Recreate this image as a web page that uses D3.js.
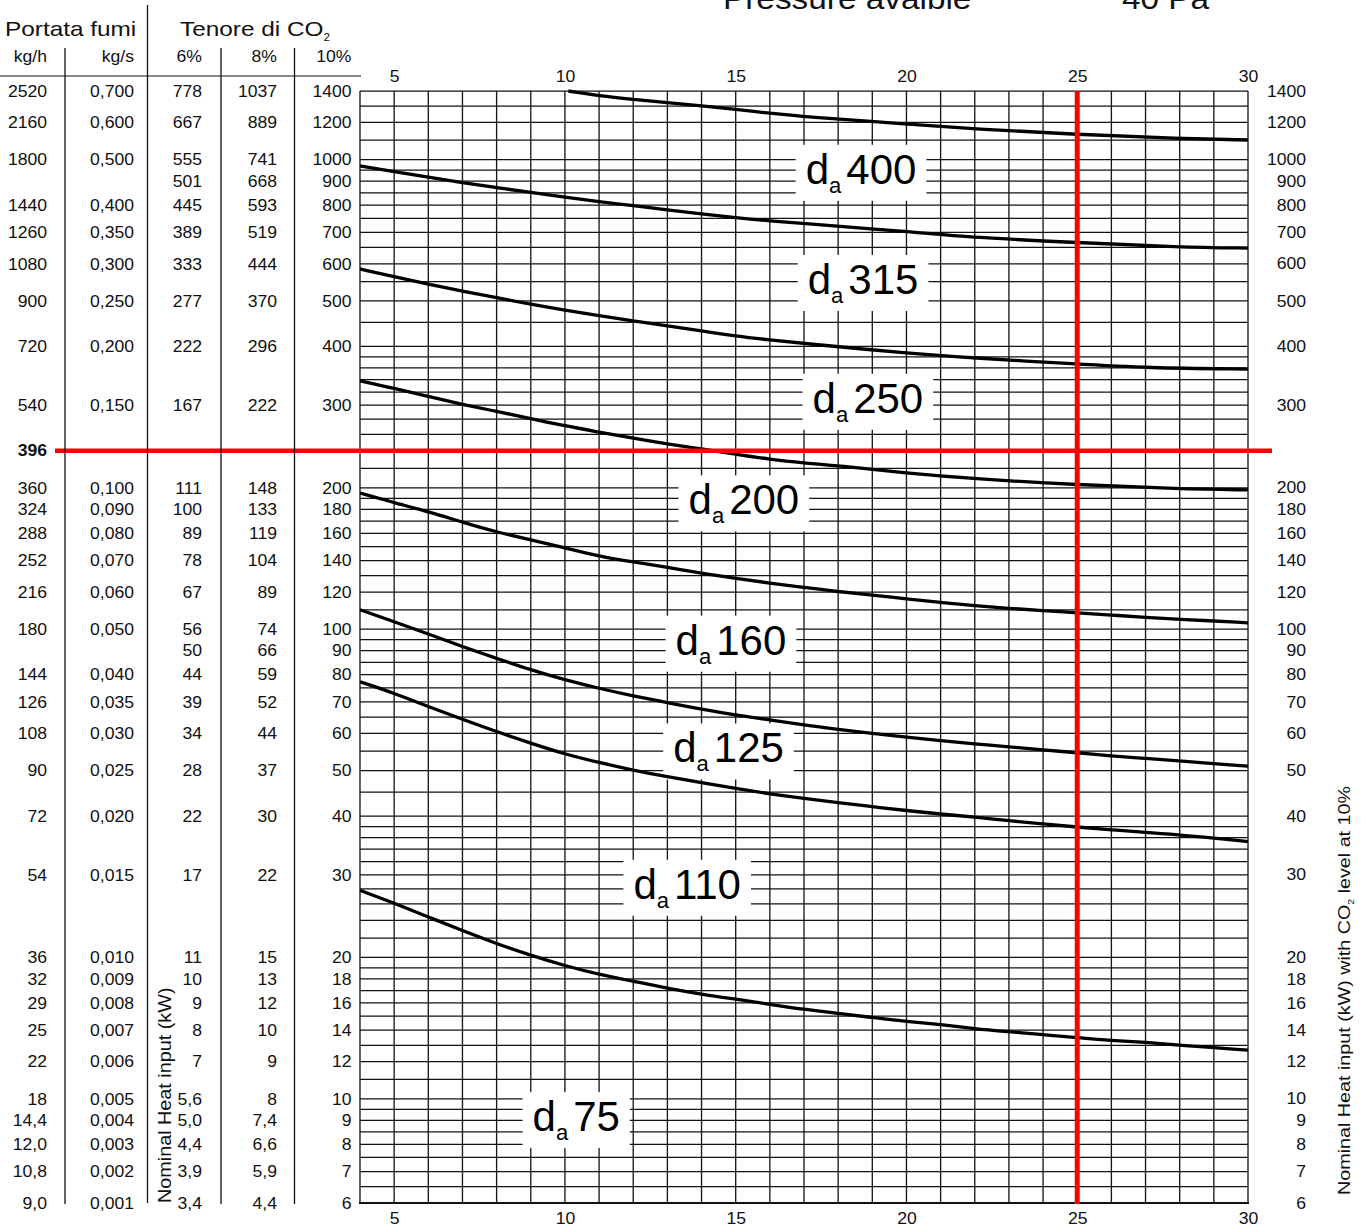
<!DOCTYPE html>
<html>
<head>
<meta charset="utf-8">
<script src="https://cdn.jsdelivr.net/npm/d3@7"></script>
<style>
  html, body { margin: 0; padding: 0; background: #fff; }
  svg { display: block; font-family: "Liberation Sans", Arial, Helvetica, sans-serif; }
</style>
</head>
<body>
<script>
// ---- data -------------------------------------------------------------
// flue gas flow table (rows placed at the 10% CO2 heat input)
const flowKgH  = ["2520","2160","1800","","1440","1260","1080","900","720","540","360","324","288","252","216","180","","144","126","108","90","72","54","36","32","29","25","22","18","14,4","12,0","10,8","9,0"];
const flowKgS  = ["0,700","0,600","0,500","","0,400","0,350","0,300","0,250","0,200","0,150","0,100","0,090","0,080","0,070","0,060","0,050","","0,040","0,035","0,030","0,025","0,020","0,015","0,010","0,009","0,008","0,007","0,006","0,005","0,004","0,003","0,002","0,001"];
const input6   = ["778","667","555","501","445","389","333","277","222","167","111","100","89","78","67","56","50","44","39","34","28","22","17","11","10","9","8","7","5,6","5,0","4,4","3,9","3,4"];
const input8   = ["1037","889","741","668","593","519","444","370","296","222","148","133","119","104","89","74","66","59","52","44","37","30","22","15","13","12","10","9","8","7,4","6,6","5,9","4,4"];
const input10  = [1400,1200,1000,900,800,700,600,500,400,300,200,180,160,140,120,100,90,80,70,60,50,40,30,20,18,16,14,12,10,9,8,7,6];

// chimney length axis ticks
const lengthTicks = [5,10,15,20,25,30];

// horizontal rulings of the log grid (kW)
const gridKW = [1400,1300,1200,1100,1000,950,900,850,800,750,700,650,600,550,500,450,400,380,360,340,320,300,280,260,240,220,200,190,180,170,160,150,140,130,120,110,100,95,90,85,80,75,70,65,60,55,50,45,40,38,36,34,32,30,28,26,24,22,20,19,18,17,16,15,14,13,12,11,10,9.5,9,8.5,8,7.5,7,6.5,6];

// capacity curves: [length, kW]
const da400 = [[10.1,1400],[11,1368],[12,1344],[13,1322],[14,1301],[15,1280],[16,1255],[17,1234],[20,1191],[22,1162],[25,1131],[28,1109],[30,1101]];
const da315 = [[4,970],[5,943],[6,917],[7,893],[8,872],[9,851],[10,832],[11,814],[12,798],[13,781],[14,766],[15,752],[16,740],[17,731],[20,703],[22,682],[25,666],[28,651],[30,648]];
const da250 = [[4,585],[5,563],[6,543],[7,525],[8,508],[9,492],[10,478],[11,465],[12,453],[13,443],[14,432],[15,421],[16,413],[17,406],[20,387],[22,378],[25,367],[27,360],[30,358]];
const da200 = [[4,338],[5,326],[6,313],[7,301],[8,291],[9,281],[10,271],[11,263],[12,255],[13,248],[14,242],[15,236],[16,230],[17,226],[18,223],[20,215],[22,209],[25,203],[28,199],[30,198]];
const da160 = [[4,195],[5,186],[6,178],[7,169],[8,161],[9,155],[10,149],[11,143],[12,139],[13,135.5],[14,131.5],[15,128.4],[16,125.3],[17,122.8],[18,120.2],[19,118.3],[20,116],[21,114.1],[22,112.2],[23,110.8],[24,109.5],[25,108.4],[26,107.2],[27,106],[28,105],[30,103.2]];
const da125 = [[4,110],[5,103.8],[6,97.7],[7,91.8],[8,86.7],[9,81.9],[10,78],[11,74.8],[12,72.1],[13,69.8],[14,67.5],[15,65.7],[16,64.1],[17,62.5],[18,61.2],[19,60],[20,58.9],[21,57.9],[22,57],[23,56.2],[24,55.3],[25,54.6],[26,53.7],[27,53.1],[28,52.4],[30,51.1]];
const da110 = [[4,77.3],[5,73.1],[6,68.4],[7,64.3],[8,60.5],[9,57.2],[10,54.2],[11,52],[12,50.1],[13,48.5],[14,47.1],[15,45.8],[16,44.6],[17,43.6],[18,42.7],[19,41.9],[20,41.1],[21,40.4],[22,39.8],[23,39.1],[24,38.5],[25,37.9],[26,37.4],[27,36.9],[28,36.5],[30,35.3]];
const da75  = [[4,27.8],[5,26.1],[6,24.4],[7,22.8],[8,21.4],[9,20.2],[10,19.2],[11,18.4],[12,17.8],[13,17.2],[14,16.7],[15,16.3],[16,15.9],[17,15.5],[18,15.2],[19,14.9],[20,14.6],[21,14.4],[22,14.1],[23,13.9],[24,13.7],[25,13.5],[26,13.3],[27,13.2],[28,13],[30,12.7]];

const curves = [da400, da315, da250, da200, da160, da125, da110, da75];
const diameters = ["400","315","250","200","160","125","110","75"];
// label anchors (length, kW)
const labelLen = [18.67,18.73,18.87,15.24,14.86,14.79,13.58,10.33];
const labelKW  = [956,557,311,189,95,56,28.7,9.19];

// selected working point
const selLength = 25;
const selKW = 240;
const selFlowLabel = "396";

// ---- setup ------------------------------------------------------------
const W = 1370, H = 1228;
const svg = d3.select("body").append("svg").attr("width", W).attr("height", H);
svg.append("rect").attr("width", W).attr("height", H).attr("fill", "#fff");

const x = d3.scaleLinear().domain([4, 30]).range([360, 1248]);
const y = d3.scaleLog().domain([6, 1400]).range([1203, 91]);

const gridLayer  = svg.append("g");
const boxLayer   = svg.append("g");
const curveLayer = svg.append("g");
const redLayer   = svg.append("g");
const textLayer  = svg.append("g");

// horizontally stretched text helper
function stext(parent, px, py, str, size, anchor, sx, opts = {}) {
  const t = parent.append("text")
    .attr("transform", `translate(${px},${py}) ${opts.rotate ? "rotate(" + opts.rotate + ")" : ""} scale(${sx},1)`)
    .attr("text-anchor", anchor)
    .attr("font-size", size)
    .attr("fill", "#111");
  if (opts.dy) t.attr("dy", opts.dy);
  if (opts.weight) t.attr("font-weight", opts.weight);
  if (str !== null) t.text(str);
  return t;
}

// ---- grid -------------------------------------------------------------
gridLayer.selectAll("line.v").data(d3.range(4, 31)).join("line")
  .attr("x1", d => x(d)).attr("x2", d => x(d))
  .attr("y1", y(1400)).attr("y2", y(6))
  .attr("stroke", "#1a1a1a").attr("stroke-width", 1.35);
gridLayer.selectAll("line.h").data(gridKW).join("line")
  .attr("x1", x(4)).attr("x2", x(30))
  .attr("y1", d => y(d)).attr("y2", d => y(d))
  .attr("stroke", "#111").attr("stroke-width", 1.25);
gridLayer.append("line")
  .attr("x1", x(4) - 1).attr("x2", x(30) + 1)
  .attr("y1", y(6)).attr("y2", y(6))
  .attr("stroke", "#111").attr("stroke-width", 2);

// ---- curves -----------------------------------------------------------
const line = d3.line().x(d => x(d[0])).y(d => y(d[1])).curve(d3.curveBasis);
curveLayer.selectAll("path").data(curves).join("path")
  .attr("d", line)
  .attr("fill", "none").attr("stroke", "#000").attr("stroke-width", 3.3)
  .attr("stroke-linecap", "butt");

// ---- diameter labels with white backing -------------------------------
diameters.forEach((dia, i) => {
  const cx = x(labelLen[i]);
  const cy = y(labelKW[i]);
  const t = textLayer.append("text")
    .attr("x", cx).attr("y", cy + 15)
    .attr("text-anchor", "middle")
    .attr("fill", "#000");
  t.append("tspan").attr("font-size", 42).text("d");
  t.append("tspan").attr("font-size", 22).attr("dy", 9).text("a");
  t.append("tspan").attr("font-size", 42).attr("dy", -9).attr("dx", 5).text(dia);
  const bb = t.node().getBBox();
  boxLayer.append("rect")
    .attr("x", bb.x - 10).attr("y", bb.y - 1)
    .attr("width", bb.width + 20).attr("height", bb.height + 4)
    .attr("fill", "#fff");
});

// ---- selection lines --------------------------------------------------
redLayer.append("line")
  .attr("x1", 55).attr("x2", 1272)
  .attr("y1", y(selKW)).attr("y2", y(selKW))
  .attr("stroke", "#ff0000").attr("stroke-width", 4.5);
redLayer.append("line")
  .attr("x1", x(selLength)).attr("x2", x(selLength))
  .attr("y1", y(1400)).attr("y2", y(6) + 1)
  .attr("stroke", "#ff0000").attr("stroke-width", 5);

// ---- axes -------------------------------------------------------------
const font = "'Liberation Sans', Arial, Helvetica, sans-serif";
function styleAxis(g) {
  g.select(".domain").remove();
  g.attr("font-size", 16).attr("font-family", font);
  g.selectAll("text").attr("fill", "#111").attr("transform", "scale(1.1,1)");
}
textLayer.append("g").attr("transform", "translate(0,82)")
  .call(d3.axisTop(x).tickValues(lengthTicks).tickSize(0).tickPadding(0))
  .call(styleAxis);
textLayer.append("g").attr("transform", `translate(0,${y(6) + 10})`)
  .call(d3.axisBottom(x).tickValues(lengthTicks).tickSize(0).tickPadding(0))
  .call(styleAxis);
textLayer.append("g").attr("transform", "translate(1306,0)")
  .call(d3.axisLeft(y).tickValues(input10).tickFormat(d3.format("d")).tickSize(0).tickPadding(0))
  .call(styleAxis);

// ---- table ------------------------------------------------------------
const tbl = textLayer.append("g");
tbl.append("line").attr("x1", 0).attr("x2", 361).attr("y1", 76).attr("y2", 76)
  .attr("stroke", "#111").attr("stroke-width", 1.2);
tbl.append("line").attr("x1", 147.5).attr("x2", 147.5).attr("y1", 5).attr("y2", 1203)
  .attr("stroke", "#111").attr("stroke-width", 1.3);
[65, 221, 294.5].forEach(cx => {
  tbl.append("line").attr("x1", cx).attr("x2", cx).attr("y1", 48).attr("y2", 1204)
    .attr("stroke", "#111").attr("stroke-width", 1.3);
});

stext(tbl, 5, 36, "Portata fumi", 21, "start", 1.16);
const co = stext(tbl, 180, 36, null, 21, "start", 1.16);
co.append("tspan").text("Tenore di CO");
co.append("tspan").attr("font-size", 10).attr("dy", 5).text("2");

const colX = [47, 134, 202, 277, 351.5];
["kg/h", "kg/s", "6%", "8%", "10%"].forEach((u, i) => stext(tbl, colX[i], 62, u, 16, "end", 1.1));

const cols = [flowKgH, flowKgS, input6, input8, input10.map(v => String(v))];
input10.forEach((kw, r) => {
  cols.forEach((col, c) => {
    if (col[r] !== "") stext(tbl, colX[c], y(kw), col[r], 16, "end", 1.1, { dy: "0.36em" });
  });
});
stext(tbl, 47, y(selKW), selFlowLabel, 16, "end", 1.1, { dy: "0.36em", weight: "bold" });

// rotated axis titles
stext(tbl, 171, 1203, "Nominal Heat input (kW)", 18, "start", 1.1, { rotate: -90 });
const rt = stext(textLayer, 1350, 1195, null, 17, "start", 1.16, { rotate: -90 });
rt.append("tspan").text("Nominal Heat input (kW) with CO");
rt.append("tspan").attr("font-size", 9).attr("dy", 4).text("2");
rt.append("tspan").attr("dy", -4).text(" level at 10%");

// heading (runs past the top edge of the page)
stext(textLayer, 723, 9, "Pressure avaible", 29, "start", 1.15);
stext(textLayer, 1122, 9, "40 Pa", 29, "start", 1.15);
</script>
</body>
</html>
